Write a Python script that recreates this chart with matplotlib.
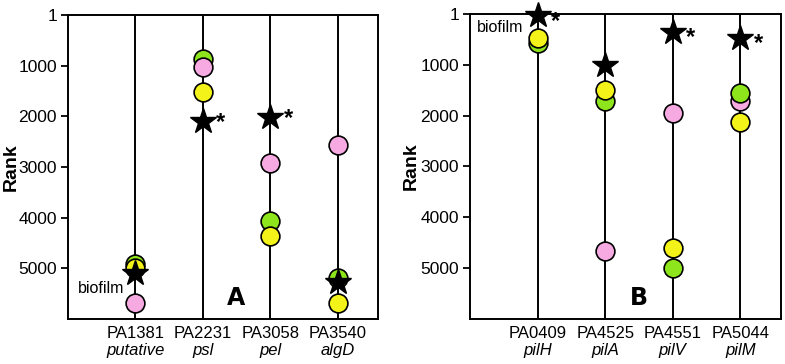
import matplotlib
matplotlib.use("Agg")
import matplotlib.pyplot as plt
from matplotlib.transforms import blended_transform_factory

plt.rcParams['font.family'] = ['Liberation Sans', 'DejaVu Sans']

# ---- data ----
genes_a = ["PA1381", "PA2231", "PA3058", "PA3540"]
names_a = ["putative", "psl", "pel", "algD"]
green_a = [4910, 870, 4070, 5200]
pink_a = [5690, 1020, 2920, 2560]
yellow_a = [4990, 1530, 4360, 5690]
star_a = [5100, 2090, 2010, 5270]
sig_a = [False, True, True, False]

genes_b = ["PA0409", "PA4525", "PA4551", "PA5044"]
names_b = ["pilH", "pilA", "pilV", "pilM"]
green_b = [580, 1720, 5000, 1560]
pink_b = [None, 4660, 1940, 1720]
yellow_b = [480, 1490, 4600, 2130]
star_b = [30, 1010, 360, 480]
sig_b = [True, False, True, True]

yticks = [1, 1000, 2000, 3000, 4000, 5000]

GREEN = "#8ee51c"
PINK = "#f7aae2"
YELLOW = "#f3f31a"

fig = plt.figure(figsize=(7.85, 3.64), dpi=100)
axA = fig.add_axes([68 / 785, 45 / 364, 310 / 785, 304 / 364])
axB = fig.add_axes([470 / 785, 45 / 364, 311 / 785, 305 / 364])


def draw(ax, genes, names, series, stars, sig, letter, bio_xy, label_x, ast_off):
    x = list(range(1, len(genes) + 1))
    for xi in x:
        ax.axvline(xi, color="black", lw=1.4, zorder=1)
    z = 2
    for vals, col in series:
        xs = [xi for xi, v in zip(x, vals) if v is not None]
        ys = [v for v in vals if v is not None]
        ax.plot(xs, ys, 'o', ms=13.5, mfc=col, mec="black", mew=1.2,
                ls='none', zorder=z, clip_on=False)
        z += 1
    ax.plot(x, stars, '*', ms=19, color="black", mec="black", ls='none',
            zorder=10, clip_on=False)
    for xi, s, f in zip(x, stars, sig):
        if f:
            ax.annotate("*", (xi, s), xytext=ast_off, textcoords="offset points",
                        fontsize=17, fontweight="bold", ha="center", va="center",
                        zorder=11, annotation_clip=False)
    ax.set_xlim(0, 4.6)
    ax.set_ylim(6000, 1)
    ax.set_yticks(yticks)
    ax.set_yticklabels([str(t) for t in yticks], fontsize=12.5)
    ax.set_xticks([])
    ax.tick_params(axis="y", direction="out", length=5, width=1.3, pad=3)
    for sp in ax.spines.values():
        sp.set_linewidth(1.4)
    ax.set_ylabel("Rank", fontsize=14, fontweight="bold")
    ax.yaxis.set_label_coords(label_x, 0.5)
    tr = blended_transform_factory(ax.transData, ax.transAxes)
    for xi, g, n in zip(x, genes, names):
        ax.text(xi, -0.022, g, transform=tr, ha="center", va="top", fontsize=12)
        ax.text(xi, -0.078, n, transform=tr, ha="center", va="top", fontsize=12,
                style="italic")
    ax.text(2.5, 5590, letter, ha="center", va="center", fontsize=17,
            fontweight="black", family="DejaVu Sans")
    ax.text(bio_xy[0], bio_xy[1], "biofilm", ha="right", va="center", fontsize=11.5)


draw(axA, genes_a, names_a, [(green_a, GREEN), (pink_a, PINK), (yellow_a, YELLOW)],
     star_a, sig_a, "A", (0.84, 5400), -0.155, (13, -1))
draw(axB, genes_b, names_b, [(pink_b, PINK), (green_b, GREEN), (yellow_b, YELLOW)],
     star_b, sig_b, "B", (0.79, 260), -0.161, (13, -4))

fig.savefig("out.png", dpi=100)
